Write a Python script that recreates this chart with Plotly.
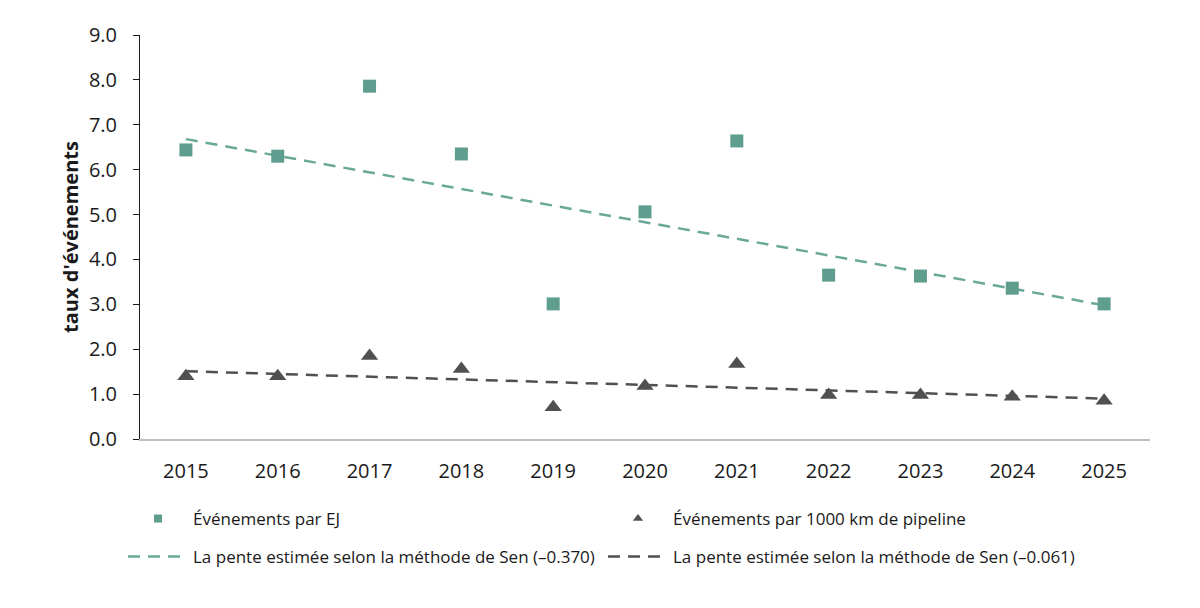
import plotly.graph_objects as go

years = ["2015", "2016", "2017", "2018", "2019", "2020", "2021", "2022", "2023", "2024", "2025"]
events_per_ej = [6.44, 6.30, 7.86, 6.35, 3.01, 5.06, 6.64, 3.65, 3.63, 3.36, 3.01]
events_per_1000km = [1.40, 1.40, 1.85, 1.56, 0.71, 1.18, 1.67, 0.98, 0.98, 0.94, 0.85]
trend_years = ["2015", "2025"]
trend_ej = [6.68, 2.98]
trend_km = [1.51, 0.90]

y_ticks = [0, 1, 2, 3, 4, 5, 6, 7, 8, 9]
y_tick_labels = ["0.0", "1.0", "2.0", "3.0", "4.0", "5.0", "6.0", "7.0", "8.0", "9.0"]

GREEN = "#5f9e8f"
GREEN_LINE = "#6aa898"
DARK = "#505050"
TEXT = "#1a1a1a"
FONT = "Open Sans"

fig = go.Figure()

fig.add_trace(go.Scatter(
    x=trend_years, y=trend_ej, mode="lines",
    line=dict(color=GREEN_LINE, width=2.5, dash="12px,8px"),
    name="La pente estimée selon la méthode de Sen (–0.370)",
    legend="legend2", hoverinfo="skip"))
fig.add_trace(go.Scatter(
    x=trend_years, y=trend_km, mode="lines",
    line=dict(color=DARK, width=2.5, dash="12px,8px"),
    name="La pente estimée selon la méthode de Sen (–0.061)",
    legend="legend2", hoverinfo="skip"))
fig.add_trace(go.Scatter(
    x=years, y=events_per_ej, mode="markers",
    marker=dict(symbol="square", size=13, color=GREEN),
    name="Événements par EJ", showlegend=False))
fig.add_trace(go.Scatter(
    x=years, y=events_per_1000km, mode="markers",
    marker=dict(symbol="triangle-up", size=15, color=DARK),
    name="Événements par 1000 km de pipeline", showlegend=False))
# legend entries with smaller symbols, as in the reference
fig.add_trace(go.Scatter(
    x=[None], y=[None], mode="markers",
    marker=dict(symbol="square", size=8, color=GREEN),
    name="Événements par EJ", legend="legend"))
fig.add_trace(go.Scatter(
    x=[None], y=[None], mode="markers",
    marker=dict(symbol="triangle-up", size=9, color=DARK),
    name="Événements par 1000 km de pipeline", legend="legend"))

legend_common = dict(
    orientation="h", xref="container", yref="container",
    xanchor="left", yanchor="middle",
    font=dict(family=FONT, size=17, color=TEXT),
    itemwidth=60,
    entrywidth=405, entrywidthmode="pixels",
    bgcolor="rgba(0,0,0,0)", traceorder="normal",
)

fig.update_layout(
    width=1200, height=608,
    margin=dict(l=140, r=50, t=35, b=169),
    paper_bgcolor="white", plot_bgcolor="white",
    font=dict(family=FONT, color=TEXT),
    showlegend=True,
    legend=dict(x=123 / 1200, y=1 - 519 / 608, **legend_common),
    legend2=dict(x=123 / 1200, y=1 - 557 / 608, **legend_common),
    xaxis=dict(
        type="category", categoryorder="array", categoryarray=years,
        range=[-0.5, 10.5],
        showgrid=False, zeroline=False,
        showline=True, linecolor="#bfbfbf", linewidth=2,
        ticks="", tickfont=dict(family=FONT, size=20, color=TEXT),
        ticklabelstandoff=13,
    ),
    yaxis=dict(
        range=[0, 9],
        tickvals=y_ticks, ticktext=y_tick_labels,
        showgrid=False, zeroline=False,
        showline=True, linecolor=TEXT, linewidth=1,
        ticks="outside", ticklen=6, tickcolor=TEXT,
        tickfont=dict(family=FONT, size=20, color=TEXT),
        ticklabelstandoff=12,
        title=dict(text="<b>taux d'événements</b>",
                   font=dict(family=FONT, size=20, color=TEXT),
                   standoff=4),
    ),
)

fig.write_html("out.html")
